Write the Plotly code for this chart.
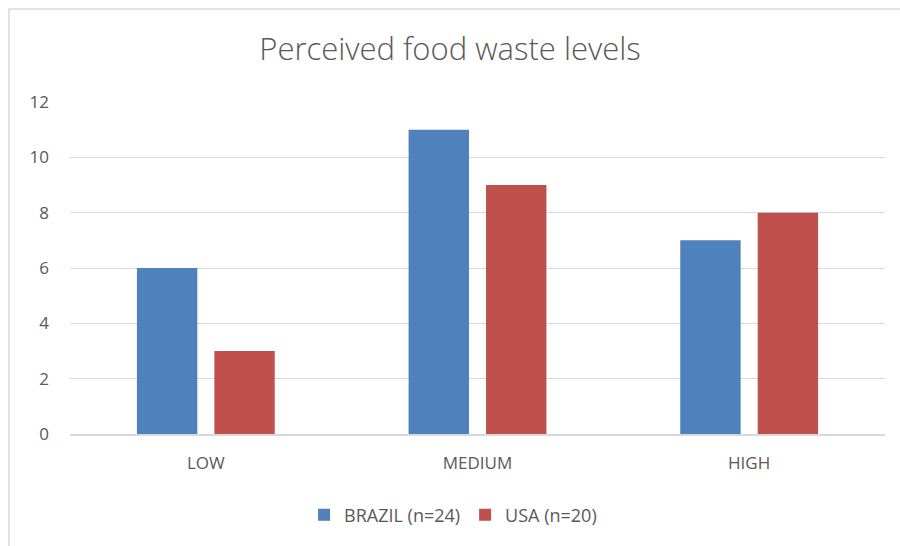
import plotly.graph_objects as go

categories = ["LOW", "MEDIUM", "HIGH"]
brazil = [6, 11, 7]
usa = [3, 9, 8]
series_names = ["BRAZIL (n=24)", "USA (n=20)"]
y_ticks = [0, 2, 4, 6, 8, 10, 12]

fig = go.Figure()
fig.add_trace(go.Bar(x=categories, y=brazil, name=series_names[0],
                     marker=dict(color="#4F81BD", line=dict(width=0))))
fig.add_trace(go.Bar(x=categories, y=usa, name=series_names[1],
                     marker=dict(color="#C0504D", line=dict(width=0))))

L, R, T, B = 70, 15, 102, 112
pw = 900 - L - R
ph = 546 - T - B

fig.update_layout(
    width=900, height=546,
    margin=dict(l=L, r=R, t=T, b=B),
    paper_bgcolor="white", plot_bgcolor="white",
    barmode="group", bargap=0.43, bargroupgap=0.22,
    font=dict(family="Open Sans", color="#595959", size=18),
    title=dict(text="Perceived food waste levels", x=0.5, xanchor="center",
               y=1 - 49 / 546, yanchor="middle",
               font=dict(size=31, color="#595959", family="Open Sans", weight=300)),
    xaxis=dict(showgrid=False, showline=True, linecolor="#D9D9D9", linewidth=1.5,
               ticks="", tickfont=dict(size=17), ticklabelstandoff=13),
    yaxis=dict(range=[0, 12], tickvals=y_ticks, showgrid=True, gridcolor="#D9D9D9",
               gridwidth=1.2, zeroline=False, ticks="", tickfont=dict(size=17),
               ticklabelstandoff=20),
    legend=dict(orientation="h", x=0.47, xanchor="center", y=-(515 - 434) / ph,
                yanchor="middle", font=dict(size=18), traceorder="normal"),
    showlegend=True,
)

# chart frame (light gray border, cropped at right/bottom)
fig.add_shape(type="rect", xref="paper", yref="paper",
              x0=(9 - L) / pw, x1=(905 - L) / pw,
              y0=-(560 - (546 - B)) / ph, y1=1 + (T - 9) / ph,
              line=dict(color="#D9D9D9", width=1.5), fillcolor="rgba(0,0,0,0)",
              layer="below")

fig.write_html("out.html")
